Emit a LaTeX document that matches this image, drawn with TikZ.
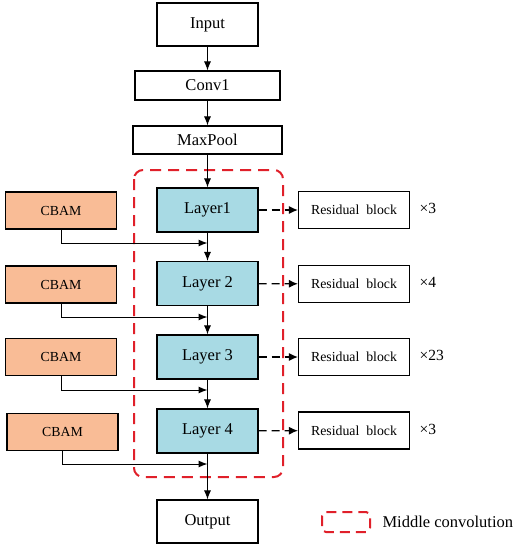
\documentclass[tikz,border=0pt]{standalone}
\usepackage{fontspec}
\setmainfont{Liberation Serif}
\usepackage{tikz}
\usetikzlibrary{arrows.meta, positioning, calc}
\definecolor{cbamorange}{RGB}{249,188,150}
\definecolor{layerblue}{RGB}{168,218,228}
\definecolor{midred}{RGB}{224,32,42}

\begin{document}
\begin{tikzpicture}[
  x=1pt, y=-1pt,
  font=\fontsize{16.5}{19}\selectfont,
  box/.style={draw, line width=1.1pt, fill=white, align=center, inner sep=0pt},
  layerbox/.style={box, fill=layerblue, minimum width=101pt, minimum height=44pt},
  cbambox/.style={box, fill=cbamorange, minimum width=111pt, minimum height=37pt,
    font=\fontsize{13.8}{16}\selectfont},
  resbox/.style={box, minimum width=111pt, minimum height=37pt,
    font=\fontsize{13.8}{16}\selectfont},
  timeslabel/.style={anchor=west, font=\fontsize{15.5}{18}\selectfont},
  arr/.style={-{Latex[length=9pt, width=7pt]}, line width=1pt},
  darr/.style={-{Latex[length=9pt, width=8pt]}, line width=1.2pt, dash pattern=on 8pt off 5pt},
  midbox/.style={draw=midred, line width=2pt, dash pattern=on 11pt off 7pt, rounded corners=9pt}
]
  \useasboundingbox (0,0) rectangle (519,550);
  % middle convolution region
  \draw[midbox] (134,170) rectangle (283,477);

  \node[box, minimum width=101pt, minimum height=43pt] (inp) at (207.5,24.5) {Input};
  \node[box, minimum width=145pt, minimum height=29pt] (conv) at (207.5,85.5) {Conv1};
  \node[box, minimum width=149pt, minimum height=28pt] (pool) at (207.5,140) {MaxPool};

  \node[layerbox] (l1) at (207.5,210) {Layer1};
  \node[layerbox] (l2) at (207.5,283.5) {Layer 2};
  \node[layerbox] (l3) at (207.5,357) {Layer 3};
  \node[layerbox] (l4) at (207.5,431) {Layer 4};
  \node[box, minimum width=101pt, minimum height=43pt] (out) at (207.5,521.5) {Output};

  \node[cbambox] (c1) at (61,210.5) {CBAM};
  \node[cbambox] (c2) at (61,284.5) {CBAM};
  \node[cbambox] (c3) at (61,357) {CBAM};
  \node[cbambox] (c4) at (62.5,432) {CBAM};

  \node[resbox] (r1) at (354,210) {Residual\ \ block};
  \node[resbox] (r2) at (354,284) {Residual\ \ block};
  \node[resbox] (r3) at (354,357) {Residual\ \ block};
  \node[resbox] (r4) at (354,430.5) {Residual\ \ block};

  \node[timeslabel] (n1) at (416,208) {×3};
  \node[timeslabel] (n2) at (416,282) {×4};
  \node[timeslabel] (n3) at (416,355) {×23};
  \node[timeslabel] (n4) at (416,429) {×3};

  % main chain
  \draw[arr] (inp) -- (conv);
  \draw[arr] (conv) -- (pool);
  \draw[arr] (pool) -- (l1);
  \draw[arr] (l1) -- (l2);
  \draw[arr] (l2) -- (l3);
  \draw[arr] (l3) -- (l4);
  \draw[arr] (l4) -- (out);

  % attention inputs
  \coordinate (j1) at (207.5,243);
  \coordinate (j2) at (207.5,317);
  \coordinate (j3) at (207.5,390);
  \coordinate (j4) at (207.5,464);
  \draw[arr] (c1.south) |- (j1);
  \draw[arr] (c2.south) |- (j2);
  \draw[arr] (c3.south) |- (j3);
  \draw[arr] (c4.south) |- (j4);

  % residual blocks
  \draw[darr] (l1) -- (r1);
  \draw[darr] (l2) -- (r2);
  \draw[darr] (l3) -- (r3);
  \draw[darr] (l4) -- (r4);

  % legend
  \draw[midbox, rounded corners=4pt, dash pattern=on 10pt off 6pt] (322,512) rectangle (370,532);
  \node[anchor=west] (leg) at (379,521.5) {Middle convolution};
\end{tikzpicture}
\end{document}
